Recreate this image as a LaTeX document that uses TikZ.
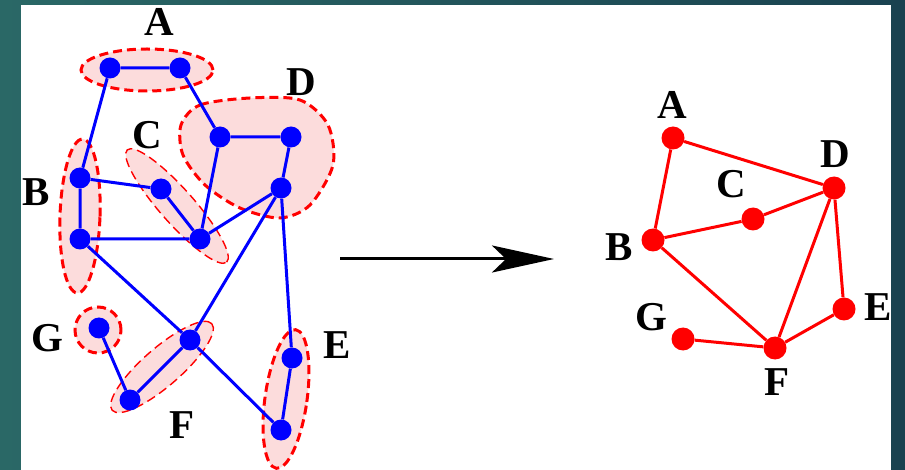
\documentclass[tikz,border=0pt]{standalone}
\usepackage{fontspec}
\setmainfont{Liberation Serif}
\usepackage{tikz}
\usetikzlibrary{
  arrows.meta,%
  positioning
}
\definecolor{tealL}{RGB}{42,104,102}
\definecolor{tealR}{RGB}{26,66,80}
\definecolor{grpfill}{RGB}{252,220,220}
\tikzset{>=latex}
\tikzset{bdot/.style={circle, fill=blue, inner sep=0pt, minimum size=21pt}}
\tikzset{rdot/.style={circle, fill=red, inner sep=0pt, minimum size=23pt}}
\tikzset{lbl/.style={font=\bfseries\fontsize{41}{41}\selectfont, inner sep=0pt}}
\tikzset{grp/.style={fill=grpfill, draw=red, line width=3pt,
    dash pattern=on 9pt off 5pt}}
\tikzset{grpthin/.style={grp, line width=1.4pt}}
\tikzset{bedge/.style={blue, line width=3pt}}
\tikzset{redge/.style={red, line width=3pt}}

\begin{document}
\begin{tikzpicture}[x=1pt,y=-1pt]
          % background and white panel
          \fill[left color=tealL, right color=tealR] (0,0) rectangle (905,470);
          \fill[white] (21,5) rectangle (891,470);
          % groups of the left graph
          \draw[grp] (147,70) ellipse [x radius=66pt, y radius=21pt];
          \draw[grp] plot[smooth cycle] coordinates {(181,125) (200,105) (250,98)
            (300,100) (328,125) (333,165) (310,205) (280,218) (240,208) (205,185) (183,155)};
          \draw[grpthin, rotate around={-48.5:(177,206)}] (177,206) ellipse [x radius=75pt, y radius=17pt];
          \draw[grp, rotate around={-2:(80,216)}] (80,216) ellipse [x radius=20pt, y radius=77pt];
          \draw[grp] (98,330) circle [radius=23pt];
          \draw[grpthin, rotate around={41:(162,367)}] (162,367) ellipse [x radius=66pt, y radius=19pt];
          \draw[grp, rotate around={-8:(286,399)}] (286,399) ellipse [x radius=21pt, y radius=70pt];
          % left graph
          \node[bdot] (a1) at (110,68) {};
          \node[bdot] (a2) at (180,68) {};
          \node[bdot] (b1) at (80,178) {};
          \node[bdot] (b2) at (80,239) {};
          \node[bdot] (c1) at (161,189) {};
          \node[bdot] (c2) at (200,239) {};
          \node[bdot] (d1) at (220,137) {};
          \node[bdot] (d2) at (291,137) {};
          \node[bdot] (d3) at (281,188) {};
          \node[bdot] (e1) at (292,358) {};
          \node[bdot] (e2) at (281,430) {};
          \node[bdot] (f1) at (190,340) {};
          \node[bdot] (f2) at (130,400) {};
          \node[bdot] (g1) at (99,328) {};
          \draw[bedge] (a1) -- (a2) (a1) -- (b1) (a2) -- (d1) (d1) -- (d2)
            (d2) -- (d3) (d1) -- (c2) (b1) -- (c1) (c1) -- (c2) (b1) -- (b2)
            (b2) -- (c2) (c2) -- (d3) (b2) -- (f1) (f1) -- (e2) (d3) -- (f1)
            (d3) -- (e1) (e1) -- (e2) (g1) -- (f2) (f2) -- (f1);
          \node[lbl] (lA) at (159,22) {A};
          \node[lbl] (lB) at (36,192) {B};
          \node[lbl] (lC) at (147,135) {C};
          \node[lbl] (lD) at (301,82) {D};
          \node[lbl] (lE) at (337,345) {E};
          \node[lbl] (lF) at (182,425) {F};
          \node[lbl] (lG) at (47,338) {G};
          % arrow
          \coordinate (arrS) at (340,259);
          \coordinate (arrE) at (554,259);
          \draw[line width=3pt, -{Stealth[length=62pt, width=27pt, inset=14pt]}] (arrS) -- (arrE);
          % right graph
          \node[rdot] (rA) at (673,138) {};
          \node[rdot] (rB) at (653,240) {};
          \node[rdot] (rC) at (753,219) {};
          \node[rdot] (rD) at (834,188) {};
          \node[rdot] (rE) at (844,309) {};
          \node[rdot] (rF) at (775,348) {};
          \node[rdot] (rG) at (683,339) {};
          \draw[redge] (rA) -- (rD) (rA) -- (rB) (rB) -- (rC) (rC) -- (rD)
            (rB) -- (rF) (rD) -- (rF) (rD) -- (rE) (rE) -- (rF) (rG) -- (rF);
          \node[lbl] (rlA) at (672,105) {A};
          \node[lbl] (rlB) at (619,247) {B};
          \node[lbl] (rlC) at (731,184) {C};
          \node[lbl] (rlD) at (835,154) {D};
          \node[lbl] (rlE) at (878,307) {E};
          \node[lbl] (rlF) at (777,382) {F};
          \node[lbl] (rlG) at (651,317) {G};
        \end{tikzpicture}
\end{document}
